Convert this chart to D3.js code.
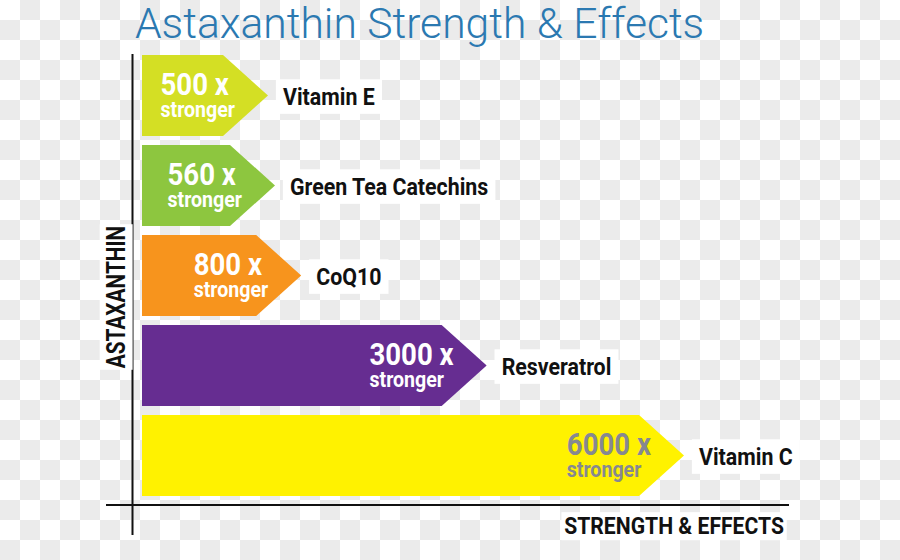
<!DOCTYPE html>
<html lang="en">
<head>
<meta charset="UTF-8">
<title>Astaxanthin Strength & Effects</title>
<script src="https://cdn.jsdelivr.net/npm/d3@7"></script>
<style>
	body { margin: 0; background: #fff; }
	svg { display: block; font-family: Roboto, "Noto Sans", sans-serif; }
	.cond { font-weight: 700; }
</style>
</head>
<body>
<script>
	// chart values
	const categories = ["Vitamin E", "Green Tea Catechins", "CoQ10", "Resveratrol", "Vitamin C"];
	const strength = [500, 560, 800, 3000, 6000];
	const unitLabel = "stronger";

	const barColors = ["#d4df24", "#8dc63f", "#f7941d", "#662d91", "#fff200"];
	const barTextColors = ["#ffffff", "#ffffff", "#ffffff", "#ffffff", "#868891"];

	const W = 900, H = 560;
	const tip = 45;      // arrow head length
	const squeeze = 0.89; // horizontal squeeze to mimic a condensed face

	const svg = d3.select("body").append("svg")
		.attr("width", W)
		.attr("height", H);

	// transparent-looking checkerboard background
	const pat = svg.append("defs").append("pattern")
		.attr("id", "checker")
		.attr("width", 40).attr("height", 40)
		.attr("patternUnits", "userSpaceOnUse");
	pat.append("rect").attr("width", 40).attr("height", 40).attr("fill", "#ffffff");
	pat.append("rect").attr("x", 20).attr("y", 0).attr("width", 20).attr("height", 20).attr("fill", "#ebebeb");
	pat.append("rect").attr("x", 0).attr("y", 20).attr("width", 20).attr("height", 20).attr("fill", "#ebebeb");
	svg.append("rect").attr("width", W).attr("height", H).attr("fill", "url(#checker)");

	const x = d3.scalePow().exponent(0.73)
		.domain([0, d3.max(strength)])
		.range([142, 639]);

	const y = d3.scaleBand()
		.domain(categories)
		.range([50.5, 500.5])
		.paddingInner(0.1)
		.paddingOuter(0.05);

	const fill = d3.scaleOrdinal().domain(categories).range(barColors);
	const ink = d3.scaleOrdinal().domain(categories).range(barTextColors);

	// squeezed text helper, returns the text selection
	function squeezedText(g, str, tx, ty, size, sx, anchor) {
		return g.append("text")
			.attr("class", "cond")
			.attr("transform", `translate(${tx},${ty}) scale(${sx},1)`)
			.attr("font-size", size)
			.attr("text-anchor", anchor || "start")
			.text(str);
	}

	// white box behind a label, same transform as the text
	function backBox(g, t, padX, padY) {
		const b = t.node().getBBox();
		g.insert("rect", () => t.node())
			.attr("transform", t.attr("transform"))
			.attr("x", b.x - padX).attr("y", b.y - padY)
			.attr("width", b.width + padX * 2).attr("height", b.height + padY * 2)
			.attr("fill", "#fff");
	}

	// title
	svg.append("text")
		.attr("x", 135)
		.attr("y", 38)
		.attr("font-size", 42.6)
		.attr("font-weight", 300)
		.attr("fill", "#2b79b1")
		.text("Astaxanthin Strength & Effects");

	// arrow bars
	const bars = svg.selectAll(".bar")
		.data(categories)
		.join("g")
		.attr("class", "bar");

	bars.append("path")
		.attr("fill", d => fill(d))
		.attr("d", (d, i) => {
			const x0 = x.range()[0], x1 = x(strength[i]);
			const t = y(d), b = y(d) + y.bandwidth(), m = t + y.bandwidth() / 2;
			return `M${x0},${t}H${x1}L${x1 + tip},${m}L${x1},${b}H${x0}Z`;
		});

	bars.each(function (d, i) {
		const g = d3.select(this);
		const m = y(d) + y.bandwidth() / 2;
		const head = x(strength[i]) + tip;

		const big = squeezedText(g, strength[i] + " x", 0, m - 1, 31, squeeze).attr("fill", ink(d));
		const small = squeezedText(g, unitLabel, 0, m + 21, 22, squeeze).attr("fill", ink(d));
		const w = Math.max(big.node().getComputedTextLength(), small.node().getComputedTextLength()) * squeeze;
		const left = head - 33 - w;
		big.attr("transform", `translate(${left},${m - 1}) scale(${squeeze},1)`);
		small.attr("transform", `translate(${left},${m + 21}) scale(${squeeze},1)`);

		const lab = squeezedText(g, d, head + 15, m + 9, 24, squeeze).attr("fill", "#111");
		backBox(g, lab, 8, 3);
	});

	// axes
	svg.append("line")
		.attr("x1", 132.5).attr("x2", 132.5)
		.attr("y1", y.range()[0] + 3.5).attr("y2", 535)
		.attr("stroke", "#111").attr("stroke-width", 2);
	svg.append("line")
		.attr("x1", 106).attr("x2", 789)
		.attr("y1", y.range()[1] + 4.5).attr("y2", y.range()[1] + 4.5)
		.attr("stroke", "#111").attr("stroke-width", 2);

	const yLab = squeezedText(svg, "ASTAXANTHIN", 0, 0, 26, 1, "middle")
		.attr("transform", "translate(125,297) rotate(-90) scale(0.8,1)")
		.attr("fill", "#111");
	backBox(svg, yLab, 2, 1);

	const xLab = squeezedText(svg, "STRENGTH & EFFECTS", 784, 534, 23, 0.92, "end")
		.attr("fill", "#111");
	backBox(svg, xLab, 3, 1);
</script>
</body>
</html>
